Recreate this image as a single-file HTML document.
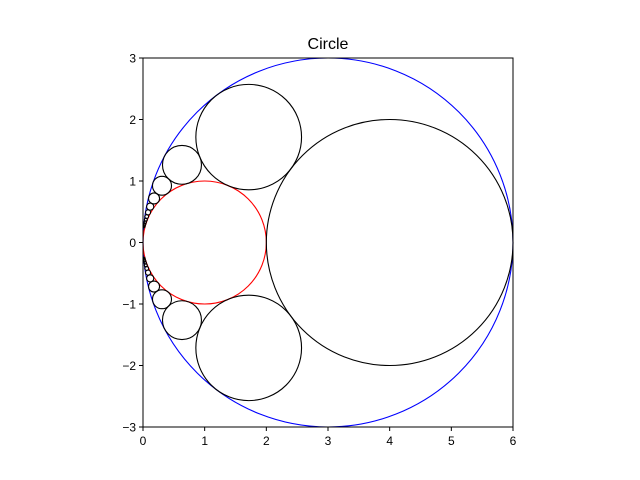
<!DOCTYPE html>
<html><head><meta charset="utf-8"><style>
body{margin:0;background:#fff;}
svg{display:block;font-family:"Liberation Sans","DejaVu Sans",sans-serif;}
</style></head><body>
<svg id="chart" width="640" height="480">
<rect width="640" height="480" fill="#fff"/>
<text x="328" y="49" font-size="16" text-anchor="middle">Circle</text>
<g id="marks"></g>
<g id="axes"></g>
</svg>
<script>
// outer / inner arbelos circles
const baseCx=[3,1,4];
const baseCy=[0,0,0];
const baseR=[3,1,2];
const baseColor=['blue','red','black'];
// Pappus chain circles (upper half; mirrored below)
const chainCx=[1.714,0.632,0.308,0.179,0.1165,0.0816,0.0603,0.0463,0.0367,0.0298,0.0247,0.0207];
const chainCy=[1.714,1.263,0.923,0.716,0.583,0.490,0.422,0.371,0.330,0.298,0.272,0.249];
const chainR=[0.857,0.316,0.154,0.0896,0.0583,0.0408,0.0302,0.0232,0.0183,0.0149,0.0124,0.0104];
const xTicks=[0,1,2,3,4,5,6];
const yTicks=[-3,-2,-1,0,1,2,3];

const L=143,R=513,T=58,B=427;
const sx=v=>L+(v-0)/(6-0)*(R-L);
const sy=v=>B-(v+3)/6*(B-T);
const NS='http://www.w3.org/2000/svg';
const marks=document.getElementById('marks');
const axes=document.getElementById('axes');
function circ(cx,cy,r,col,name){
  const c=document.createElementNS(NS,'ellipse');
  c.setAttribute('cx',sx(cx));c.setAttribute('cy',sy(cy));
  c.setAttribute('rx',sx(r)-sx(0));c.setAttribute('ry',sy(0)-sy(r));
  c.setAttribute('fill','none');c.setAttribute('stroke',col);c.setAttribute('stroke-width','1.1');
  
  
  marks.appendChild(c);
}
baseCx.forEach((v,i)=>circ(v,baseCy[i],baseR[i],baseColor[i],'base-circle-'+i));
chainCx.forEach((v,i)=>{circ(v,chainCy[i],chainR[i],'black','chain-circle-upper-'+(i+1));circ(v,-chainCy[i],chainR[i],'black','chain-circle-lower-'+(i+1));});
const frame=document.createElementNS(NS,'rect');
frame.setAttribute('x',L);frame.setAttribute('y',T);frame.setAttribute('width',R-L);frame.setAttribute('height',B-T);
frame.setAttribute('fill','none');frame.setAttribute('stroke','black');frame.setAttribute('stroke-width','1');


axes.appendChild(frame);
function add(tag,attrs,text,name){
  const e=document.createElementNS(NS,tag);
  for(const k in attrs)e.setAttribute(k,attrs[k]);
  if(text!==undefined)e.textContent=text;
  
  
  axes.appendChild(e);
}
xTicks.forEach(v=>{
  add('line',{x1:sx(v),x2:sx(v),y1:B,y2:B+4,stroke:'black'},undefined,'x-tick-'+v);
  add('text',{x:sx(v),y:B+18,'font-size':12,'text-anchor':'middle'},String(v),'x-tick-label-'+v);
});
yTicks.forEach(v=>{
  add('line',{x1:L-4,x2:L,y1:sy(v),y2:sy(v),stroke:'black'},undefined,'y-tick-'+v);
  add('text',{x:L-7,y:sy(v)+4.5,'font-size':12,'text-anchor':'end'},String(v).replace('-','\u2212'),'y-tick-label-'+v);
});
</script>
</body></html>
